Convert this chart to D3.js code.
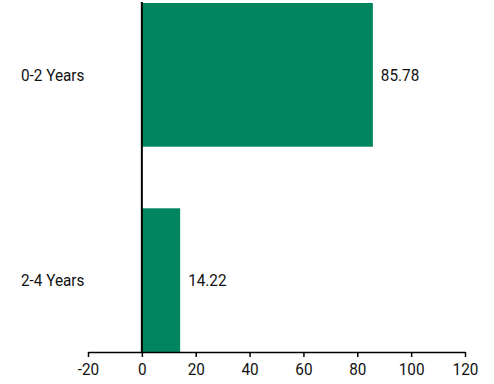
<!DOCTYPE html>
<html><head><meta charset="utf-8">
<script src="https://cdn.jsdelivr.net/npm/d3@7"></script>
<style>body{margin:0;background:#fff}text{font-family:"Roboto",sans-serif;font-size:17px;fill:#111}</style>
</head><body><svg id="c" width="494" height="384"></svg>
<script>
const categories = ["0-2 Years", "2-4 Years"];
const values = [85.78, 14.22];
const tickValues = [-20, 0, 20, 40, 60, 80, 100, 120];

const svg = d3.select("#c");
const x = d3.scaleLinear().domain([-20, 120]).range([88, 465]);
const y = d3.scaleBand().domain(categories).range([3, 352]).paddingInner(0.3).paddingOuter(0);
const sx = 0.9;

svg.selectAll("rect.bar").data(categories).join("rect")
  .attr("x", x(0)).attr("y", d => y(d))
  .attr("width", (d, i) => x(values[i]) - x(0))
  .attr("height", y.bandwidth()).attr("fill", "#00855E");

svg.selectAll("text.val").data(categories).join("text")
  .attr("transform", (d, i) => `translate(${x(values[i]) + 8},${y(d) + y.bandwidth() / 2}) scale(${sx},1)`)
  .attr("dy", "0.35em").text((d, i) => values[i].toFixed(2));

svg.selectAll("text.cat").data(categories).join("text")
  .attr("transform", d => `translate(21,${y(d) + y.bandwidth() / 2}) scale(${sx},1)`)
  .attr("dy", "0.35em").text(d => d);

svg.append("line").attr("x1", x(0)).attr("x2", x(0)).attr("y1", 2).attr("y2", 352)
  .attr("stroke", "#000").attr("stroke-width", 2);

const ax = svg.append("g").attr("transform", "translate(0,352)")
  .call(d3.axisBottom(x).tickValues(tickValues).tickSize(5).tickSizeOuter(0).tickFormat(d => String(d)));
ax.select(".domain").attr("stroke", "#000").attr("stroke-width", 1.5);
ax.selectAll(".tick line").attr("stroke", "#000").attr("stroke-width", 1.5);
ax.selectAll(".tick text").attr("y", 11).attr("transform", `scale(${sx},1)`)
  .style("font-size", "17px").style("font-family", '"Roboto",sans-serif').attr("fill", "#111");
</script></body></html>
